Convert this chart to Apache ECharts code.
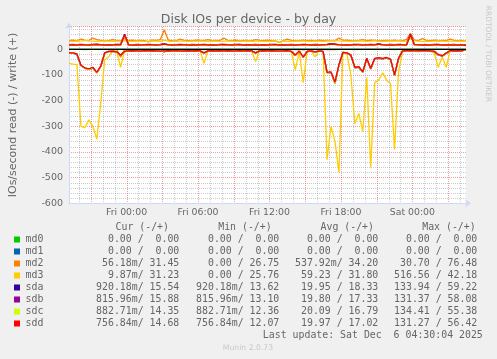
<!DOCTYPE html>
<html><head><meta charset="utf-8">
<script src="https://cdn.jsdelivr.net/npm/echarts@6/dist/echarts.min.js"></script>
<style>html,body{margin:0;padding:0;background:#f0f0f0}#c{width:497px;height:359px}</style>
</head><body><div id="c"></div>
<script>
// ---- time grid (hours relative to Fri 00:00), 20-minute samples ----
const startHour = -29/6;   // Thu 19:10
const stepHours = 1/3;     // 20 min
const endHour = 28.5;      // Sat 04:30

const xTickHours = [0, 6, 12, 18, 24];
const xTickLabels = ['Fri 00:00', 'Fri 06:00', 'Fri 12:00', 'Fri 18:00', 'Sat 00:00'];

const devices = ['md0','md1','md2','md3','sda','sdb','sdc','sdd'];
const devColors = ['#00CC00','#0066B3','#FF8000','#FFCC00','#330099','#990099','#CCFF00','#FF0000'];

// ---- values (read values are plotted negative) ----
const md0Read = [0,0,0,0,0,0,0,0,0,0, 0,0,0,0,0,0,0,0,0,0, 0,0,0,0,0,0,0,0,0,0, 0,0,0,0,0,0,0,0,0,0, 0,0,0,0,0,0,0,0,0,0, 0,0,0,0,0,0,0,0,0,0, 0,0,0,0,0,0,0,0,0,0, 0,0,0,0,0,0,0,0,0,0, 0,0,0,0,0,0,0,0,0,0, 0,0,0,0,0,0,0,0,0,0, 0];
const md0Write = [0,0,0,0,0,0,0,0,0,0, 0,0,0,0,0,0,0,0,0,0, 0,0,0,0,0,0,0,0,0,0, 0,0,0,0,0,0,0,0,0,0, 0,0,0,0,0,0,0,0,0,0, 0,0,0,0,0,0,0,0,0,0, 0,0,0,0,0,0,0,0,0,0, 0,0,0,0,0,0,0,0,0,0, 0,0,0,0,0,0,0,0,0,0, 0,0,0,0,0,0,0,0,0,0, 0];
const md1Read = [0,0,0,0,0,0,0,0,0,0, 0,0,0,0,0,0,0,0,0,0, 0,0,0,0,0,0,0,0,0,0, 0,0,0,0,0,0,0,0,0,0, 0,0,0,0,0,0,0,0,0,0, 0,0,0,0,0,0,0,0,0,0, 0,0,0,0,0,0,0,0,0,0, 0,0,0,0,0,0,0,0,0,0, 0,0,0,0,0,0,0,0,0,0, 0,0,0,0,0,0,0,0,0,0, 0];
const md1Write = [0,0,0,0,0,0,0,0,0,0, 0,0,0,0,0,0,0,0,0,0, 0,0,0,0,0,0,0,0,0,0, 0,0,0,0,0,0,0,0,0,0, 0,0,0,0,0,0,0,0,0,0, 0,0,0,0,0,0,0,0,0,0, 0,0,0,0,0,0,0,0,0,0, 0,0,0,0,0,0,0,0,0,0, 0,0,0,0,0,0,0,0,0,0, 0,0,0,0,0,0,0,0,0,0, 0];
const md2Read = [0,0,0,0,1,0,0,0,0,0, 0,0,0,30.7,0,0,0,0,0,0, 0,0,0,0,12,0,0,0,0,0, 0,0,0,0,1,0,0,0,0,0, 0,0,0,0,0,0,0,1,0,0, 0,0,0,0,0,0,0,1,0,2, 0,0,0,0,0,1,0,1,0,0, 0,0,1,0,0,0,0,0,0,0, 0,0,1,0,0,0,0,0,0,0, 0,0,0,0,0,0,0,0,0,0, 0.06];
const md2Write = [34,36,33,40,35,34,44,38,35,33, 34,38,35,33,42,34,36,33,35,34, 29,36,35,38,76,36,34,33,40,35, 34,33,36,35,34,38,33,35,34,44, 35,34,36,33,35,34,33,38,35,34, 36,34,33,27,34,40,35,33,34,36, 34,35,33,36,34,35,34,33,44,35, 36,34,33,35,38,34,36,35,33,34, 35,34,36,33,34,38,62,36,34,42, 35,34,36,33,35,34,40,35,33,34, 31.45];
const md3Read = [55,58,60,300,305,275,300,350,210,40, 30,5,6,70,4,4,3,5,4,6, 5,4,6,4,5,4,7,5,4,6, 4,5,6,4,55,5,4,6,5,4, 5,4,6,5,4,5,6,48,4,5, 4,6,5,4,5,6,8,80,10,130, 8,6,30,6,8,430,300,360,480,10, 18,100,290,250,320,110,460,130,120,92, 120,135,390,90,10,5,4,6,10,5, 4,6,15,70,30,70,6,5,6,4, 0.01];
const md3Write = [32,31,33,32,35,33,32,31,32,33, 32,31,32,33,34,32,31,32,32,31, 32,33,32,31,36,32,31,32,33,32, 31,32,32,33,32,31,32,32,31,32, 33,32,31,32,32,33,31,32,32,31, 32,31,32,26,33,31,32,31,32,33, 32,31,32,32,31,33,34,35,33,32, 32,31,32,33,32,31,32,34,32,31, 32,33,32,34,31,32,42,33,32,31, 32,31,32,33,32,31,32,32,31,32, 31.23];
const sdaRead = [15,15,20,64,74,78,72,92,67,15, 9,8,11,24,9,7,6,7,8,6, 7,6,7,8,7,6,7,6,8,7, 6,7,6,7,15,7,6,7,6,7, 6,7,8,6,7,6,7,15,7,6, 7,6,7,8,7,6,9,24,8,32, 9,7,11,7,9,92,90,134,62,13, 15,24,72,70,90,37,77,37,35,37, 34,40,102,37,7,6,6,7,6,6, 6,7,9,22,27,16,6,6,5,6, 0.92];
const sdaWrite = [18,19,17,19,18,18,19,20,18,17, 18,18,19,19,59,18,17,19,18,18, 19,18,18,19,21,18,18,18,19,18, 17,19,18,18,19,18,18,17,19,19, 18,18,19,19,17,18,18,19,17,18, 18,19,19,17,18,18,19,17,18,19, 18,18,19,18,18,19,22,20,18,17, 18,18,19,19,18,18,19,18,21,18, 17,19,18,19,18,18,59,19,18,17, 18,18,19,19,17,18,18,19,17,18, 15.54];
const sdbRead = [14,15,19,63,73,77,71,91,66,14, 8,8,10,23,8,6,6,6,7,6, 6,6,6,7,6,6,6,6,7,6, 6,6,6,6,14,6,6,6,6,6, 6,6,7,6,6,6,6,14,6,6, 6,6,6,7,6,6,8,23,7,31, 8,6,10,6,8,91,89,131,61,12, 14,23,71,69,89,36,76,36,34,36, 33,39,101,36,6,6,6,6,6,6, 6,6,8,21,26,15,6,6,5,6, 0.82];
const sdbWrite = [17,17,16,18,17,17,18,18,17,16, 17,17,18,17,57,17,16,18,17,17, 18,17,17,18,20,17,16,17,18,17, 16,18,17,17,18,17,17,16,18,18, 17,17,18,18,16,17,17,18,16,17, 17,18,18,16,17,17,18,16,17,18, 17,17,18,17,17,18,21,19,17,16, 17,17,18,18,17,17,18,17,20,17, 16,18,17,18,17,17,58,18,17,16, 17,17,18,18,16,17,17,18,16,17, 15.88];
const sdcRead = [15,14,19,65,73,79,71,93,66,15, 9,7,11,23,9,6,6,7,7,6, 7,5,7,7,7,5,7,6,8,6, 6,6,6,7,15,6,6,6,6,7, 6,6,8,5,7,5,7,15,6,6, 7,5,7,7,7,5,9,23,8,31, 9,6,11,6,9,93,89,134,62,13, 15,23,71,70,90,36,77,36,34,36, 33,39,102,36,7,5,6,7,6,6, 6,6,9,21,26,16,6,5,5,6, 0.88];
const sdcWrite = [16,16,16,17,17,16,17,17,16,16, 16,16,17,17,54,16,16,17,16,16, 17,16,16,17,19,16,16,17,17,16, 16,17,16,16,17,16,16,16,17,17, 16,16,17,17,16,16,16,17,16,16, 16,17,17,16,16,16,17,16,16,17, 16,16,17,16,16,17,19,18,16,16, 16,16,17,17,16,16,17,16,19,16, 16,17,16,17,16,16,55,17,16,16, 16,16,17,17,16,16,16,17,16,16, 14.35];
const sddRead = [14,14,18,62,72,76,70,90,65,14, 8,7,10,22,8,6,5,6,7,5, 6,5,6,7,6,5,6,5,7,6, 5,6,5,6,14,6,5,6,5,6, 5,6,7,5,6,5,6,14,6,5, 6,5,6,7,6,5,8,22,7,30, 8,6,10,6,8,90,88,128,60,12, 14,22,70,68,88,35,75,35,33,35, 32,38,100,35,6,5,5,6,5,5, 5,6,8,20,25,15,5,5,4,5, 0.76];
const sddWrite = [16,17,16,18,17,16,17,18,17,16, 17,16,18,17,56,17,16,17,16,17, 18,17,16,17,20,17,16,17,18,17, 16,17,16,17,18,16,17,16,17,18, 17,16,17,18,16,17,16,17,16,17, 16,17,18,16,17,16,17,16,17,18, 17,16,17,16,17,18,20,19,17,16, 17,16,18,17,16,17,18,17,20,17, 16,17,16,18,17,16,56,18,17,16, 17,16,17,18,16,17,16,17,16,17, 14.68];

const readSets = [md0Read, md1Read, md2Read, md3Read, sdaRead, sdbRead, sdcRead, sddRead];
const writeSets = [md0Write, md1Write, md2Write, md3Write, sdaWrite, sdbWrite, sdcWrite, sddWrite];

// ---- legend table texts ----
const statHeaders = ['Cur (-/+)', 'Min (-/+)', 'Avg (-/+)', 'Max (-/+)'];
const statCur = ['0.00 /  0.00','0.00 /  0.00','56.18m/ 31.45','9.87m/ 31.23','920.18m/ 15.54','815.96m/ 15.88','882.71m/ 14.35','756.84m/ 14.68'];
const statMin = ['0.00 /  0.00','0.00 /  0.00','0.00 / 26.75','0.00 / 25.76','920.18m/ 13.62','815.96m/ 13.10','882.71m/ 12.36','756.84m/ 12.07'];
const statAvg = ['0.00 /  0.00','0.00 /  0.00','537.92m/ 34.20','59.23 / 31.80','19.95 / 18.33','19.80 / 17.33','20.09 / 16.79','19.97 / 17.02'];
const statMax = ['0.00 /  0.00','0.00 /  0.00','30.70 / 76.48','516.56 / 42.18','133.94 / 59.22','131.37 / 58.08','134.41 / 55.38','131.27 / 56.42'];
const lastUpdate = 'Last update: Sat Dec  6 04:30:04 2025';
const titleText = 'Disk IOs per device - by day';
const yName = 'IOs/second read (-) / write (+)';

// ---- styles ----
const FONT = '#666666';
const AXIS = '#CFD6F8';
const MGRID = 'rgba(222,79,79,0.55)';
const GRID = 'rgba(143,143,143,0.45)';
const SANS = '"DejaVu Sans"';
const MONO = '"DejaVu Sans Mono"';

function toPts(arr, sign) {
  return arr.map((v, i) => [startHour + i * stepHours, sign * v]);
}

const gridHours = [];
for (let h = Math.ceil(startHour); h <= Math.floor(endHour); h++) gridHours.push(h);

const series = [];
// vertical grid lines (hourly minor, 3-hourly major), crisp dotted
series.push({
  type: 'custom', z: 1, silent: true, clip: false,
  data: gridHours.map(h => [h, 0]), encode: {x: 0, y: 1},
  renderItem: function (params, api) {
    const h = api.value(0);
    const p = api.coord([h, 0]);
    const cs = params.coordSys;
    const x = Math.round(p[0]) + 0.5;
    return {type: 'line', silent: true,
      shape: {x1: x, y1: Math.round(cs.y), x2: x, y2: Math.round(cs.y + cs.height)},
      style: {stroke: (Math.round(h) % 3 === 0) ? MGRID : GRID, lineWidth: 1, lineDash: [1, 1]}};
  }
});
devices.forEach((d, k) => {
  [[readSets[k], -1], [writeSets[k], 1]].forEach(([arr, sgn]) => {
    series.push({
      name: d, type: 'line', data: toPts(arr, sgn), symbol: 'none', showSymbol: false,
      lineStyle: {width: 1.3, color: devColors[k]}, itemStyle: {color: devColors[k]},
      z: 2, silent: true, emphasis: {disabled: true}
    });
  });
});
series.push({
  type: 'line', data: [[startHour, 0]], symbol: 'none', lineStyle: {opacity: 0}, z: 5, silent: true,
  markLine: {silent: true, symbol: ['none','none'], label: {show: false}, animation: false,
    data: [{yAxis: 0, lineStyle: {color: '#000000', width: 1.2, type: 'solid'}}]}
});

// ---- graphic texts ----
function txt(x, y, text, font, fill, align, extra) {
  return Object.assign({type: 'text', x: x, y: y, silent: true,
    style: {text: text, font: font, fill: fill, textAlign: align, align: align,
            textVerticalAlign: 'middle', verticalAlign: 'middle'}}, extra || {});
}
const g = [];
g.push(txt(248.5, 19.3, titleText, '12.5px ' + SANS, FONT, 'center'));
g.push(txt(488, 54, 'RRDTOOL / TOBI OETIKER', '7.5px ' + SANS, '#c8c8c8', 'center', {rotation: -Math.PI / 2}));
const headerX = [115.5, 218.2, 320.5, 422.2];
const colRight = [179.3, 279.3, 378.3, 477.3];
const monoFont = '9.9px ' + MONO;
statHeaders.forEach((h, j) => g.push(txt(headerX[j], 227.7, h, monoFont, FONT, 'left')));
const cols = [statCur, statMin, statAvg, statMax];
devices.forEach((d, r) => {
  const y = 239.5 + 12 * r;
  g.push({type: 'rect', silent: true, shape: {x: 14, y: y - 3, width: 6, height: 6}, style: {fill: devColors[r]}});
  g.push(txt(25.6, y, d, monoFont, FONT, 'left'));
  cols.forEach((c, j) => g.push(txt(colRight[j], y, c[r], monoFont, FONT, 'right')));
});
g.push(txt(482.8, 335.5, lastUpdate, monoFont, FONT, 'right'));
g.push(txt(248, 348.3, 'Munin 2.0.73', '7.7px ' + SANS, '#c8c8c8', 'center'));

const chart = echarts.init(document.getElementById('c'), null, {renderer: 'canvas', width: 497, height: 359});
chart.setOption({
  backgroundColor: '#f0f0f0',
  animation: false,
  grid: {left: 66, right: 31, top: 26.7, bottom: 155.7, show: true, backgroundColor: '#ffffff', borderWidth: 0, containLabel: false},
  xAxis: {
    type: 'value', min: startHour, max: endHour,
    splitLine: {show: false}, axisTick: {show: false},
    axisLine: {show: true, onZero: false, lineStyle: {color: AXIS, width: 1},
      symbol: ['none', 'arrow'], symbolSize: [6, 6], symbolOffset: [0, 5]},
    axisLabel: {customValues: xTickHours, color: FONT, fontFamily: 'DejaVu Sans', fontSize: 9.35, margin: 5,
      formatter: v => { const i = xTickHours.indexOf(Math.round(v)); return i >= 0 ? xTickLabels[i] : ''; }}
  },
  yAxis: {
    type: 'value', min: -600, max: 88, interval: 20,
    name: yName, nameLocation: 'middle', nameGap: 50,
    nameTextStyle: {color: FONT, fontFamily: 'DejaVu Sans', fontSize: 11},
    axisLine: {show: true, onZero: false, lineStyle: {color: AXIS, width: 1},
      symbol: ['none', 'arrow'], symbolSize: [6, 6], symbolOffset: [0, 4]},
    axisTick: {show: false},
    axisLabel: {color: FONT, fontFamily: 'DejaVu Sans', fontSize: 9.5, margin: 6,
      formatter: v => (Math.round(v) % 100 === 0 ? String(Math.round(v)) : '')},
    splitLine: {show: true, lineStyle: {color: [MGRID, GRID, GRID, GRID, GRID], type: [1, 1], width: 1}}
  },
  series: series,
  graphic: g
});
</script>
</body></html>
